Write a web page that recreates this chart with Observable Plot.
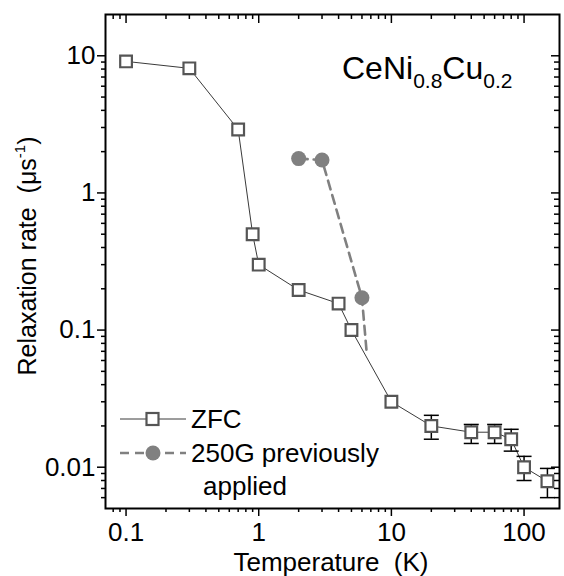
<!DOCTYPE html>
<html>
<head>
<meta charset="utf-8">
<script src="https://cdn.jsdelivr.net/npm/d3@7"></script>
<script src="https://cdn.jsdelivr.net/npm/@observablehq/plot@0.6"></script>
<style>
  html, body { margin: 0; padding: 0; background: #fff; }
  svg text { font-family: "Liberation Sans", Arial, sans-serif; }
</style>
</head>
<body>
<div id="chart"></div>
<script>
// ZFC series
const zfcT = [0.1, 0.3, 0.7, 0.9, 1, 2, 4, 5, 10, 20, 40, 60, 80, 100, 150];
const zfcR = [9.1, 8.1, 2.9, 0.50, 0.30, 0.196, 0.156, 0.10, 0.030, 0.020, 0.018, 0.018, 0.016, 0.010, 0.0079];
// ZFC error bars
const errT = [20, 40, 60, 80, 100, 150];
const errLo = [0.016, 0.0149, 0.0149, 0.0131, 0.0080, 0.0060];
const errHi = [0.0239, 0.0205, 0.0205, 0.0189, 0.0120, 0.0098];
// 250G previously applied series (last vertex is line only)
const h250T = [2, 3, 6, 6.5];
const h250R = [1.78, 1.74, 0.172, 0.07];
const h250Marked = [true, true, true, false];
// ticks
const xTickValues = [0.1, 1, 10, 100];
const xTickLabels = ["0.1", "1", "10", "100"];
const yTickValues = [0.01, 0.1, 1, 10];
const yTickLabels = ["0.01", "0.1", "1", "10"];

const xDomain = [0.07, 185];
const yDomain = [0.005, 20];

const W = 564, H = 576;
const mL = 105, mR = 5, mT = 14, mB = 68;
const iw = W - mL - mR, ih = H - mT - mB;

function minorTicks(domain) {
  const out = [];
  for (let e = -4; e <= 4; e++) {
    for (let m = 2; m <= 9; m++) {
      const v = m * Math.pow(10, e);
      if (v > domain[0] && v < domain[1]) out.push(+v.toPrecision(6));
    }
  }
  return out;
}
const xMinor = minorTicks(xDomain);
const yMinor = minorTicks(yDomain);

const zfc = zfcT.map((t, i) => ({t, r: zfcR[i]}));
const errs = errT.map((t, i) => ({t, lo: errLo[i], hi: errHi[i]}));
const h250 = h250T.map((t, i) => ({t, r: h250R[i], m: h250Marked[i]}));

const hbar = { draw(ctx, size) { const w = Math.sqrt(size / Math.PI); ctx.moveTo(-w, 0); ctx.lineTo(w, 0); } };

const font = '"Liberation Sans", Arial, sans-serif';

const chart = Plot.plot({
  width: W, height: H,
  marginLeft: mL, marginRight: mR, marginTop: mT, marginBottom: mB,
  style: { fontFamily: font, background: "white", overflow: "visible" },
  x: { type: "log", domain: xDomain, axis: null },
  y: { type: "log", domain: yDomain, axis: null },
  marks: [
    // ZFC line
    Plot.line(zfc, { x: "t", y: "r", stroke: "#3a3a3a", strokeWidth: 1 }),
    // 250G dashed line
    Plot.line(h250, { x: "t", y: "r", stroke: "#808080", strokeWidth: 2.6, strokeDasharray: "9,6" }),
    // error bars
    Plot.ruleX(errs, { x: "t", y1: "lo", y2: "hi", stroke: "black", strokeWidth: 1.5 }),
    Plot.dot(errs, { x: "t", y: "lo", symbol: hbar, r: 7.5, stroke: "black", strokeWidth: 1.5 }),
    Plot.dot(errs, { x: "t", y: "hi", symbol: hbar, r: 7.5, stroke: "black", strokeWidth: 1.5 }),
    // ZFC squares
    Plot.dot(zfc, { x: "t", y: "r", symbol: "square", r: 6.6, fill: "white", stroke: "#555", strokeWidth: 2.2 }),
    // 250G circles
    Plot.dot(h250.filter(d => d.m), { x: "t", y: "r", r: 7.5, fill: "#808080", stroke: "none" }),
    // bottom ticks (outward)
    Plot.tickX(xTickValues, { x: d => d, insetTop: ih, insetBottom: -8, stroke: "black", strokeWidth: 1.5 }),
    Plot.tickX(xMinor, { x: d => d, insetTop: ih, insetBottom: -4, stroke: "black", strokeWidth: 1.5 }),
    // top ticks (inward)
    Plot.tickX(xTickValues, { x: d => d, insetBottom: ih - 9, stroke: "black", strokeWidth: 1.5 }),
    Plot.tickX(xMinor, { x: d => d, insetBottom: ih - 5, stroke: "black", strokeWidth: 1.5 }),
    // left ticks (outward)
    Plot.tickY(yTickValues, { y: d => d, insetRight: iw, insetLeft: -8, stroke: "black", strokeWidth: 1.5 }),
    Plot.tickY(yMinor, { y: d => d, insetRight: iw, insetLeft: -4, stroke: "black", strokeWidth: 1.5 }),
    // right ticks (inward)
    Plot.tickY(yTickValues, { y: d => d, insetLeft: iw - 8, stroke: "black", strokeWidth: 1.5 }),
    Plot.tickY(yMinor, { y: d => d, insetLeft: iw - 5, stroke: "black", strokeWidth: 1.5 }),
    Plot.frame({ stroke: "black", strokeWidth: 2 }),
    // tick labels
    Plot.text(xTickValues, { x: d => d, text: (d, i) => xTickLabels[i], frameAnchor: "bottom", lineAnchor: "bottom", dy: 32, fontSize: 26, fill: "black" }),
    Plot.text(yTickValues, { y: d => d, text: (d, i) => yTickLabels[i], frameAnchor: "left", textAnchor: "end", lineAnchor: "middle", dx: -10, fontSize: 26, fill: "black" })
  ]
});

document.getElementById("chart").appendChild(chart);

const svg = d3.select(chart);

function addText(parent, x, y, size, anchor) {
  return parent.append("text").attr("x", x).attr("y", y).attr("font-size", size)
    .attr("text-anchor", anchor).style("text-anchor", anchor).attr("fill", "black").style("font-family", font);
}

// chart title
const title = addText(svg, 342, 79, 32, "start");
title.append("tspan").text("CeNi");
title.append("tspan").attr("font-size", 21).attr("dy", 9).text("0.8");
title.append("tspan").attr("dy", -9).text("Cu");
title.append("tspan").attr("font-size", 21).attr("dy", 9).text("0.2");

// axis titles
addText(svg, 331, 571, 26, "middle").text("Temperature\u00a0\u00a0(K)");
const yl = svg.append("text").attr("transform", "translate(36,256) rotate(-90)").attr("text-anchor", "middle").style("text-anchor", "middle").attr("font-size", 25).attr("fill", "black").style("font-family", font);
yl.append("tspan").text("Relaxation rate\u00a0\u00a0(\u03bcs");
yl.append("tspan").attr("font-size", 15).attr("dy", -11).text("-1");
yl.append("tspan").attr("dy", 11).text(")");

// legend
const lg = svg.append("g");
lg.append("line").attr("x1", 120).attr("x2", 186).attr("y1", 419).attr("y2", 419).attr("stroke", "#3a3a3a").attr("stroke-width", 1);
lg.append("rect").attr("x", 146.5).attr("y", 413).attr("width", 12).attr("height", 12).attr("fill", "white").attr("stroke", "#555").attr("stroke-width", 2.2);
addText(lg, 191, 428, 26, "start").text("ZFC");
lg.append("line").attr("x1", 120).attr("x2", 186).attr("y1", 453).attr("y2", 453).attr("stroke", "#808080").attr("stroke-width", 2.6).attr("stroke-dasharray", "9,6");
lg.append("circle").attr("cx", 153).attr("cy", 453).attr("r", 7.5).attr("fill", "#808080");
addText(lg, 191, 462, 26, "start").text("250G previously");
addText(lg, 203, 495, 26, "start").text("applied");
</script>
</body>
</html>
